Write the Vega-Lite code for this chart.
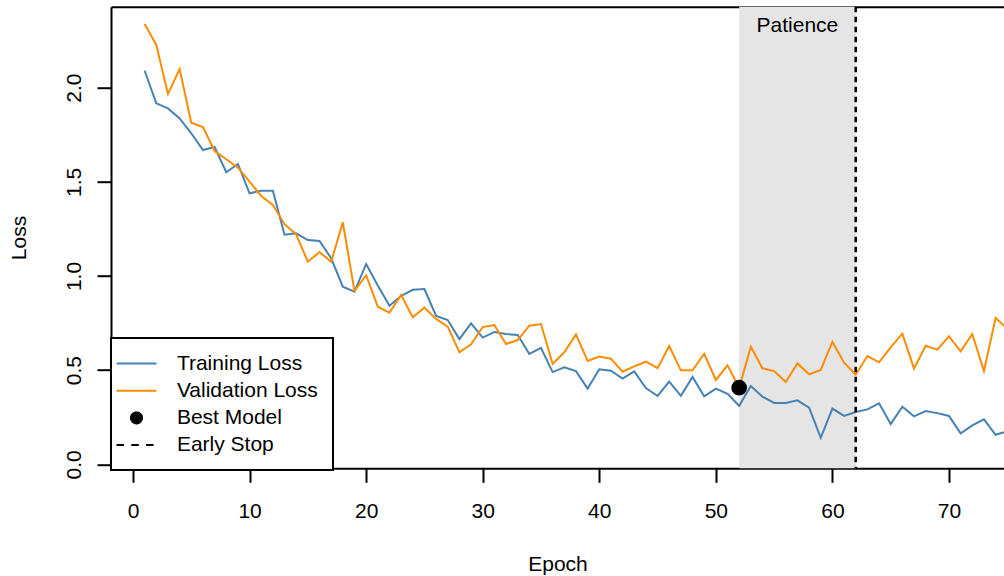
{
  "$schema": "https://vega.github.io/schema/vega-lite/v6.json",
  "autosize": "none",
  "padding": {"left": 111, "top": 6.7, "right": 0, "bottom": 107.7},
  "width": 893,
  "height": 461.6,
  "background": "white",
  "config": {
    "view": {"stroke": null},
    "font": "Liberation Sans",
    "axis": {
      "grid": false,
      "labelFont": "Liberation Sans",
      "labelFontSize": 21,
      "labelColor": "black",
      "titleFont": "Liberation Sans",
      "titleFontSize": 21,
      "titleFontWeight": "normal",
      "titleColor": "black",
      "tickColor": "black",
      "tickWidth": 2,
      "tickSize": 14,
      "domainColor": "black",
      "domainWidth": 2,
      "labelFlush": false,
      "labelOverlap": false
    }
  },
  "datasets": {
    "history": [
      {"epoch": 1, "train": 2.090, "valid": 2.338},
      {"epoch": 2, "train": 1.917, "valid": 2.227},
      {"epoch": 3, "train": 1.890, "valid": 1.966},
      {"epoch": 4, "train": 1.837, "valid": 2.099},
      {"epoch": 5, "train": 1.758, "valid": 1.814},
      {"epoch": 6, "train": 1.669, "valid": 1.791},
      {"epoch": 7, "train": 1.685, "valid": 1.664},
      {"epoch": 8, "train": 1.551, "valid": 1.620},
      {"epoch": 9, "train": 1.595, "valid": 1.575},
      {"epoch": 10, "train": 1.439, "valid": 1.501},
      {"epoch": 11, "train": 1.453, "valid": 1.425},
      {"epoch": 12, "train": 1.453, "valid": 1.377},
      {"epoch": 13, "train": 1.219, "valid": 1.275},
      {"epoch": 14, "train": 1.227, "valid": 1.221},
      {"epoch": 15, "train": 1.191, "valid": 1.076},
      {"epoch": 16, "train": 1.186, "valid": 1.127},
      {"epoch": 17, "train": 1.094, "valid": 1.076},
      {"epoch": 18, "train": 0.943, "valid": 1.285},
      {"epoch": 19, "train": 0.917, "valid": 0.920},
      {"epoch": 20, "train": 1.064, "valid": 1.004},
      {"epoch": 21, "train": 0.950, "valid": 0.837},
      {"epoch": 22, "train": 0.842, "valid": 0.805},
      {"epoch": 23, "train": 0.894, "valid": 0.899},
      {"epoch": 24, "train": 0.927, "valid": 0.781},
      {"epoch": 25, "train": 0.931, "valid": 0.832},
      {"epoch": 26, "train": 0.788, "valid": 0.772},
      {"epoch": 27, "train": 0.766, "valid": 0.731},
      {"epoch": 28, "train": 0.665, "valid": 0.595},
      {"epoch": 29, "train": 0.749, "valid": 0.637},
      {"epoch": 30, "train": 0.673, "valid": 0.729},
      {"epoch": 31, "train": 0.703, "valid": 0.740},
      {"epoch": 32, "train": 0.692, "valid": 0.639},
      {"epoch": 33, "train": 0.687, "valid": 0.660},
      {"epoch": 34, "train": 0.586, "valid": 0.736},
      {"epoch": 35, "train": 0.619, "valid": 0.745},
      {"epoch": 36, "train": 0.490, "valid": 0.533},
      {"epoch": 37, "train": 0.515, "valid": 0.595},
      {"epoch": 38, "train": 0.495, "valid": 0.690},
      {"epoch": 39, "train": 0.402, "valid": 0.549},
      {"epoch": 40, "train": 0.505, "valid": 0.572},
      {"epoch": 41, "train": 0.497, "valid": 0.561},
      {"epoch": 42, "train": 0.455, "valid": 0.492},
      {"epoch": 43, "train": 0.494, "valid": 0.520},
      {"epoch": 44, "train": 0.405, "valid": 0.545},
      {"epoch": 45, "train": 0.363, "valid": 0.511},
      {"epoch": 46, "train": 0.439, "valid": 0.628},
      {"epoch": 47, "train": 0.364, "valid": 0.499},
      {"epoch": 48, "train": 0.464, "valid": 0.499},
      {"epoch": 49, "train": 0.361, "valid": 0.587},
      {"epoch": 50, "train": 0.402, "valid": 0.448},
      {"epoch": 51, "train": 0.375, "valid": 0.526},
      {"epoch": 52, "train": 0.311, "valid": 0.407},
      {"epoch": 53, "train": 0.416, "valid": 0.625},
      {"epoch": 54, "train": 0.359, "valid": 0.510},
      {"epoch": 55, "train": 0.326, "valid": 0.495},
      {"epoch": 56, "train": 0.326, "valid": 0.437},
      {"epoch": 57, "train": 0.340, "valid": 0.536},
      {"epoch": 58, "train": 0.301, "valid": 0.478},
      {"epoch": 59, "train": 0.141, "valid": 0.501},
      {"epoch": 60, "train": 0.296, "valid": 0.651},
      {"epoch": 61, "train": 0.257, "valid": 0.540},
      {"epoch": 62, "train": 0.278, "valid": 0.476},
      {"epoch": 63, "train": 0.292, "valid": 0.575},
      {"epoch": 64, "train": 0.324, "valid": 0.542},
      {"epoch": 65, "train": 0.214, "valid": 0.621},
      {"epoch": 66, "train": 0.306, "valid": 0.694},
      {"epoch": 67, "train": 0.255, "valid": 0.508},
      {"epoch": 68, "train": 0.283, "valid": 0.630},
      {"epoch": 69, "train": 0.272, "valid": 0.609},
      {"epoch": 70, "train": 0.257, "valid": 0.680},
      {"epoch": 71, "train": 0.165, "valid": 0.600},
      {"epoch": 72, "train": 0.207, "valid": 0.692},
      {"epoch": 73, "train": 0.239, "valid": 0.495},
      {"epoch": 74, "train": 0.157, "valid": 0.777},
      {"epoch": 75, "train": 0.176, "valid": 0.720}
    ],
    "patience": [{"start": 52, "stop": 62}],
    "best": [{"epoch": 52, "loss": 0.407}],
    "stop": [{"epoch": 62}]
  },
  "resolve": {"axis": {"x": "independent", "y": "independent"}},
  "layer": [
    {
      "data": {"name": "patience"},
      "mark": {"type": "rect", "color": "#E5E5E5"},
      "encoding": {
        "x": {
          "field": "start",
          "type": "quantitative",
          "scale": {"domain": [-1.887, 74.72], "nice": false, "zero": false},
          "axis": {"orient": "top", "labels": false, "ticks": false, "title": null, "domain": true}
        },
        "x2": {"field": "stop"}
      }
    },
    {
      "data": {"name": "history"},
      "transform": [{"fold": ["train", "valid"], "as": ["series", "loss"]}],
      "mark": {"type": "line", "strokeWidth": 2, "clip": true},
      "encoding": {
        "x": {
          "field": "epoch",
          "type": "quantitative",
          "scale": {"domain": [-1.887, 74.72], "nice": false, "zero": false},
          "axis": {
            "values": [0, 10, 20, 30, 40, 50, 60, 70],
            "title": "Epoch",
            "labelPadding": 18,
            "titlePadding": 32,
            "domain": true
          }
        },
        "y": {
          "field": "loss",
          "type": "quantitative",
          "scale": {"domain": [-0.021, 2.43], "nice": false, "zero": false},
          "axis": {
            "values": [0, 0.5, 1, 1.5, 2],
            "format": ".1f",
            "title": "Loss",
            "labelAngle": -90,
            "labelAlign": "center",
            "labelBaseline": "alphabetic",
            "labelPadding": 17,
            "titlePadding": 34,
            "domain": true
          }
        },
        "color": {
          "field": "series",
          "type": "nominal",
          "scale": {
            "domain": ["train", "valid", "best", "stop"],
            "range": ["steelblue", "darkorange", "black", "black"]
          },
          "legend": {
            "title": null,
            "orient": "none",
            "legendX": 0,
            "legendY": 331.2,
            "fillColor": "white",
            "strokeColor": "black",
            "padding": 14.6,
            "symbolSize": 400,
            "symbolStrokeWidth": 2,
            "symbolOffset": -0.1,
            "labelOffset": 29.4,
            "labelFontSize": 21,
            "labelFont": "Liberation Sans",
            "labelColor": "black",
            "rowPadding": 6.2,
            "labelExpr": "datum.value == 'train' ? 'Training Loss' : datum.value == 'valid' ? 'Validation Loss' : datum.value == 'best' ? 'Best Model' : 'Early Stop'",
            "encode": {
              "legend": {"update": {"strokeWidth": {"value": 2}}},
              "symbols": {
                "update": {
                  "shape": {"signal": "datum.value == 'best' ? 'circle' : 'M-2,0H2'"},
                  "size": {"signal": "datum.value == 'best' ? 121 : 400"},
                  "fill": {"signal": "datum.value == 'best' ? 'black' : 'transparent'"},
                  "strokeDash": {"signal": "datum.value == 'stop' ? [7.5, 7.3] : [1, 0]"},
                  "strokeWidth": {"value": 2}
                }
              }
            }
          }
        }
      }
    },
    {
      "data": {"name": "stop"},
      "mark": {"type": "rule", "color": "black", "strokeWidth": 2.5, "strokeDash": [5.5, 4.5]},
      "encoding": {
        "x": {"field": "epoch", "type": "quantitative", "axis": null}
      }
    },
    {
      "data": {"name": "best"},
      "mark": {"type": "point", "filled": true, "color": "black", "opacity": 1, "size": 246},
      "encoding": {
        "x": {"field": "epoch", "type": "quantitative", "axis": null},
        "y": {"field": "loss", "type": "quantitative", "axis": null}
      }
    },
    {
      "data": {"name": "patience"},
      "mark": {"type": "text", "text": "Patience", "font": "Liberation Sans", "fontSize": 21, "color": "black", "align": "center", "baseline": "alphabetic"},
      "encoding": {
        "x": {"datum": 57, "type": "quantitative", "axis": null},
        "y": {"datum": 2.294, "type": "quantitative", "axis": null}
      }
    }
  ]
}
